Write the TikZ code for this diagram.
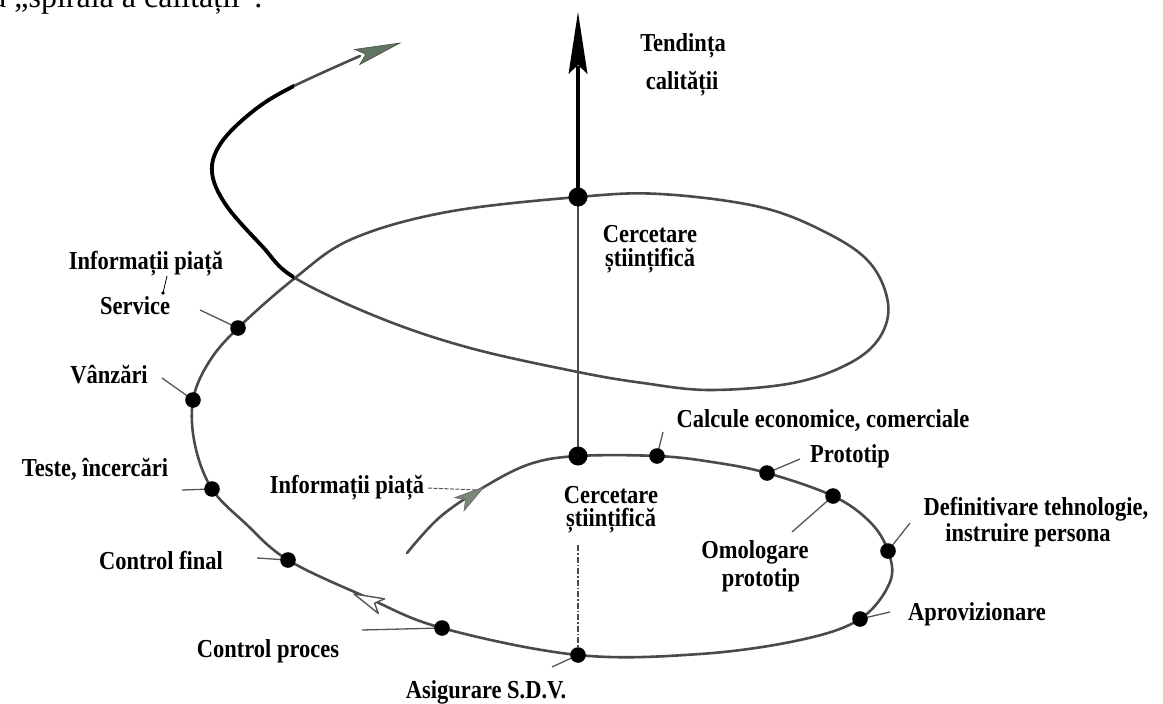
\documentclass[tikz,border=0pt]{standalone}
\usepackage{fontspec}
\setmainfont{Liberation Serif}
\definecolor{curvegray}{HTML}{4A4A4A}
\definecolor{leadgray}{HTML}{555555}
\definecolor{arrgreen}{HTML}{60755F}
\begin{document}
\begin{tikzpicture}[x=1pt,y=-1pt,
  lbl/.style={font=\fontsize{22.5}{24}\selectfont\bfseries, inner sep=0pt, yscale=1.15, transform shape},
  spiral/.style={draw=curvegray, line width=2.6pt, line cap=round, line join=round},
  leader/.style={draw=leadgray, line width=1.3pt},
  bigdot/.style={fill=black},
]
\useasboundingbox (0,0) rectangle (1163,704);
% ---- caption cut at top
\node[anchor=base west, inner sep=0pt, font=\fontsize{32}{34}\selectfont] (cap) at (-8,7) {ă „spirala a calității”.};
% ---- curve points
\coordinate (L0) at (407,553);
\coordinate (L1) at (440,517);
\coordinate (L2) at (484,487);
\coordinate (L3) at (530,464);
\coordinate (cs1) at (578,456);
\coordinate (ce) at (657,456);
\coordinate (L4) at (712,462);
\coordinate (pr) at (767,473);
\coordinate (om) at (833,496);
\coordinate (L5) at (870,522);
\coordinate (de) at (888,551);
\coordinate (L6) at (890,582);
\coordinate (ap) at (860,619);
\coordinate (L7) at (800,640);
\coordinate (L8) at (700,654);
\coordinate (as) at (578,655);
\coordinate (cp) at (442,628);
\coordinate (L9) at (366,597);
\coordinate (cf) at (288,560);
\coordinate (L10) at (245,523);
\coordinate (te) at (212,489);
\coordinate (L11) at (195,445);
\coordinate (va) at (193,400);
\coordinate (L12) at (209,362);
\coordinate (se) at (238,328);
\coordinate (X) at (295,278);
\coordinate (U1) at (352,239);
\coordinate (U2) at (447,212);
\coordinate (cs2) at (578,197);
\coordinate (U3) at (660,194);
\coordinate (U4) at (760,207);
\coordinate (U5) at (827,233);
\coordinate (U6) at (870,263);
\coordinate (U7) at (888,303);
\coordinate (U8) at (880,337);
\coordinate (U9) at (850,363);
\coordinate (U10) at (793,383);
\coordinate (U11) at (710,390);
\coordinate (U12) at (643,383);
\coordinate (U13) at (578,372);
\coordinate (U14) at (470,348);
\coordinate (U15) at (380,318);
\coordinate (K1) at (262,246);
\coordinate (K2) at (226,205);
\coordinate (K3) at (212,172);
\coordinate (K4) at (221,143);
\coordinate (K5) at (252,112);
\coordinate (K6) at (290,88);
\coordinate (K7) at (360,56);
% ---- spiral
\draw[spiral] plot[smooth, tension=0.6] coordinates {(L0) (L1) (L2) (L3) (cs1) (ce) (L4) (pr) (om) (L5) (de) (L6) (ap) (L7) (L8) (as) (cp) (L9) (cf) (L10) (te) (L11) (va) (L12) (se) (X) (U1) (U2) (cs2) (U3) (U4) (U5) (U6) (U7) (U8) (U9) (U10) (U11) (U12) (U13) (U14) (U15) (X) (K1) (K2) (K3) (K4) (K5) (K6) (K7)};
\begin{scope}
\clip (150,0) rectangle (294,279);
\draw[black, line width=3.8pt, line join=round] plot[smooth, tension=0.6] coordinates {(U14) (U15) (X) (K1) (K2) (K3) (K4) (K5) (K6) (K7)};
\end{scope}
% ---- vertical axis
\coordinate (vtop) at (578,66);
\coordinate (vtip) at (578,12);
\coordinate (vd) at (578,545);
\draw[curvegray, line width=1.4pt] (cs1) -- (cs2);
\draw[black, line width=4pt] (cs2) -- (vtop);
\fill[black] (vtip) -- (587.5,74) -- (578,65) -- (568.5,74) -- cycle;
\draw[curvegray, line width=1.3pt, dash pattern=on 6pt off 2pt on 1.5pt off 2pt] (vd) -- (as);
% ---- arrowheads on the spiral
\fill[arrgreen, draw=black!70, line width=0.6pt] (400,43) -- (359.7,64.6) -- (365.8,54.2) -- (354.7,49.4) -- cycle;
\fill[arrgreen!85, draw=black!60, line width=0.6pt] (L2) -- (464,510.8) -- (465.5,499.9) -- (454.8,497.6) -- cycle;
\filldraw[fill=white, draw=leadgray, line width=1.4pt, line join=round] (354,594) -- (384.7,598.8) -- (374.6,603.1) -- (378.3,613.4) -- cycle;
% ---- leader ends
\coordinate (lce) at (663,432);
\coordinate (lpr) at (800,459);
\coordinate (lom) at (792,532);
\coordinate (lde) at (910,523);
\coordinate (lap) at (890,612);
\coordinate (las) at (552,667);
\coordinate (lcp) at (362,630);
\coordinate (lcf) at (257,558);
\coordinate (lte) at (182,490);
\coordinate (lva) at (162,378);
\coordinate (lse) at (200,310);
\coordinate (lin) at (428,488);
\coordinate (lin2) at (477,490);
\coordinate (lsa) at (167,276);
\coordinate (lsb) at (163,293);
\foreach \a/\b in {lce/ce, lpr/pr, lom/om, lde/de, lap/ap, las/as, lcp/cp, lcf/cf, lte/te, lva/va, lse/se}
  \draw[leader] (\a) -- (\b);
\draw[leader, line width=1pt, dash pattern=on 4pt off 1.5pt] (lin) -- (lin2);
\draw[black, line width=0.8pt] (lsa) -- (lsb);
\fill[black] (lsb) circle (1.8);
% ---- dots
\foreach \p in {ce, pr, om, de, ap, as, cp, cf, te, va, se}
  \fill[bigdot] (\p) circle (7.8);
\fill[bigdot] (cs1) circle (9.5);
\fill[bigdot] (cs2) circle (9.5);
% ---- labels
\node[lbl] (tend1) at (683,46) {Tendința};
\node[lbl] (tend2) at (682,84) {calității};
\node[lbl] (csa2) at (650,234) {Cercetare};
\node[lbl] (csb2) at (650,261) {științifică};
\node[lbl] (info1) at (146,264) {Informații piață};
\node[lbl] (serv) at (135,306) {Service};
\node[lbl] (vanz) at (109,375) {Vânzări};
\node[lbl] (test) at (95,469) {Teste, încercări};
\node[lbl] (cfl) at (161,561) {Control final};
\node[lbl] (cpl) at (268,651) {Control proces};
\node[lbl] (asl) at (486,692) {Asigurare S.D.V.};
\node[lbl] (info2) at (347,488) {Informații piață};
\node[lbl] (csa1) at (611,495) {Cercetare};
\node[lbl] (csb1) at (611,521) {științifică};
\node[lbl] (calc) at (823,421) {Calcule economice, comerciale};
\node[lbl] (prot) at (850,456) {Prototip};
\node[lbl] (oma) at (755,552) {Omologare};
\node[lbl] (omb) at (761,580) {prototip};
\node[lbl] (defa) at (1036,509) {Definitivare tehnologie,};
\node[lbl] (defb) at (1028,535) {instruire persona};
\node[lbl] (aprov) at (977,614) {Aprovizionare};
\end{tikzpicture}
\end{document}
